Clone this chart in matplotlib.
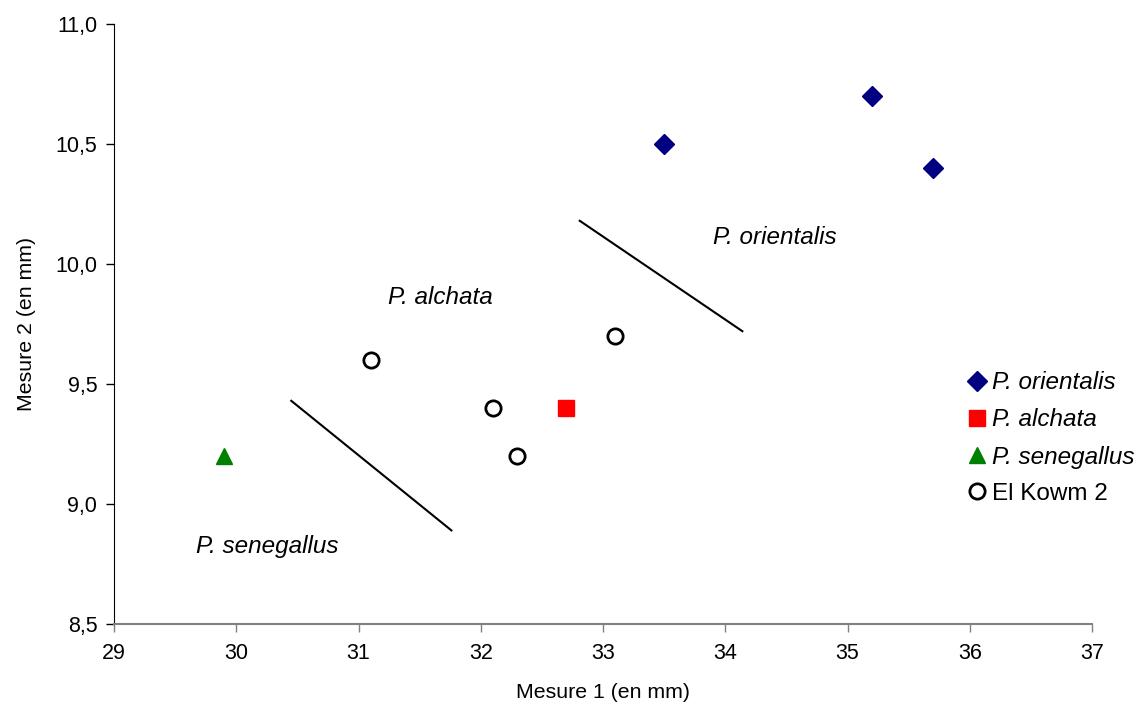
import matplotlib
matplotlib.use("Agg")
import matplotlib.pyplot as plt

plt.rcParams['font.family'] = ['Liberation Sans', 'DejaVu Sans']

orient_x = [33.5, 35.2, 35.7]
orient_y = [10.5, 10.7, 10.4]
alch_x = [32.7]
alch_y = [9.4]
sene_x = [29.9]
sene_y = [9.2]
kowm_x = [31.1, 32.1, 32.3, 33.1]
kowm_y = [9.6, 9.4, 9.2, 9.7]

line1_x = [30.45, 31.76]
line1_y = [9.43, 8.89]
line2_x = [32.81, 34.14]
line2_y = [10.18, 9.72]

xticks = [29, 30, 31, 32, 33, 34, 35, 36, 37]
yticks = [8.5, 9.0, 9.5, 10.0, 10.5, 11.0]
ytick_labels = ["8,5", "9,0", "9,5", "10,0", "10,5", "11,0"]

fig = plt.figure(figsize=(11.44, 7.05), dpi=100)
ax = fig.add_axes([114/1144, 1-624/705, (1092-114)/1144, 600/705])

h1, = ax.plot(orient_x, orient_y, linestyle='none', marker='D', markersize=10,
              color='#000080', label='P. orientalis')
h2, = ax.plot(alch_x, alch_y, linestyle='none', marker='s', markersize=12,
              color='#ff0000', label='P. alchata')
h3, = ax.plot(sene_x, sene_y, linestyle='none', marker='^', markersize=12,
              color='#008000', label='P. senegallus')
h4, = ax.plot(kowm_x, kowm_y, linestyle='none', marker='o', markersize=11,
              markerfacecolor='white', markeredgecolor='black', markeredgewidth=2,
              label='El Kowm 2')

ax.plot(line1_x, line1_y, color='black', linewidth=1.5)
ax.plot(line2_x, line2_y, color='black', linewidth=1.5)

ax.text(33.9, 10.11, 'P. orientalis', fontsize=17.5, style='italic', va='center')
ax.text(31.24, 9.86, 'P. alchata', fontsize=17.5, style='italic', va='center')
ax.text(29.67, 8.825, 'P. senegallus', fontsize=17.5, style='italic', va='center')

ax.set_xlim(29, 37)
ax.set_ylim(8.5, 11.0)
ax.set_xticks(xticks)
ax.set_xticklabels([str(t) for t in xticks])
ax.set_yticks(yticks)
ax.set_yticklabels(ytick_labels)
ax.tick_params(axis='both', labelsize=15.5, direction='out', length=6, width=1, pad=6)
ax.tick_params(axis='x', colors='#808080', labelcolor='black', pad=8)
ax.spines['top'].set_visible(False)
ax.spines['right'].set_visible(False)
ax.spines['bottom'].set_color('#808080')
ax.spines['bottom'].set_linewidth(1.5)
ax.spines['left'].set_color('black')

ax.set_xlabel('Mesure 1 (en mm)', fontsize=15.3, labelpad=13)
ax.set_ylabel('Mesure 2 (en mm)', fontsize=15.3, labelpad=14)

leg = fig.legend(handles=[h1, h2, h3, h4], loc='center left',
                 bbox_to_anchor=(966/1144, 1-438/705), frameon=False,
                 fontsize=17.5, handletextpad=0.15, handlelength=0.9,
                 labelspacing=0.58, borderaxespad=0, borderpad=0)
for t in leg.get_texts()[:3]:
    t.set_style('italic')

fig.savefig('out.png', dpi=100, facecolor='white')
